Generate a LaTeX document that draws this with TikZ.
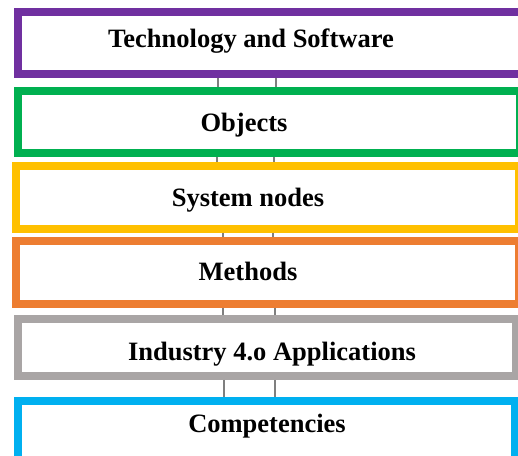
\documentclass[tikz,border=0pt]{standalone}
\usepackage{fontspec}
\setmainfont{Liberation Serif}

\definecolor{techpurple}{HTML}{7030A0}
\definecolor{objgreen}{HTML}{00B050}
\definecolor{sysyellow}{HTML}{FFC000}
\definecolor{methorange}{HTML}{ED7D31}
\definecolor{indgray}{HTML}{A9A5A5}
\definecolor{compblue}{HTML}{00B0F0}
\definecolor{linkgray}{HTML}{7F7F7F}

\tikzset{
    layer/.style={draw=#1, line width=7.5pt, fill=white, inner sep=0pt},
    caption/.style={anchor=base, font=\bfseries\fontsize{26.5}{31}\selectfont},
    link/.style={draw=linkgray, line width=2.5pt}
}

\begin{document}
\begin{tikzpicture}[x=1pt, y=1pt]
                \clip (0, 0) rectangle (518, 455);

                % the six layers, top to bottom
                \node[layer=techpurple, minimum width=506, minimum height=62] (tech) at (271, 412) {};
                \node[layer=objgreen, minimum width=502, minimum height=62] (obj) at (269, 333) {};
                \node[layer=sysyellow, minimum width=503, minimum height=63] (sys) at (267.5, 257.5) {};
                \node[layer=methorange, minimum width=503, minimum height=63] (meth) at (267.5, 182.5) {};
                \node[layer=indgray, minimum width=498, minimum height=57] (ind) at (267, 107.5) {};
                \node[layer=compblue, minimum width=497, minimum height=61] (comp) at (266.5, 23.5) {};

                \node[caption] (tech-text) at (251, 407) {Technology and Software};
                \node[caption] (obj-text) at (244, 323) {Objects};
                \node[caption] (sys-text) at (248, 248) {System nodes};
                \node[caption] (meth-text) at (248, 175) {Methods};
                \node[caption] (ind-text) at (272, 95) {Industry 4.o Applications};
                \node[caption] (comp-text) at (267, 23) {Competencies};

                % short double links between neighbouring layers
                \foreach \up/\down/\xa/\xb in {tech/obj/218/276, obj/sys/217/274, sys/meth/223/273, meth/ind/223/275, ind/comp/224/275} {
                    \draw[link] (\up.south -| \xa,0) -- (\down.north -| \xa,0);
                    \draw[link] (\up.south -| \xb,0) -- (\down.north -| \xb,0);
                }

            \end{tikzpicture}
\end{document}
